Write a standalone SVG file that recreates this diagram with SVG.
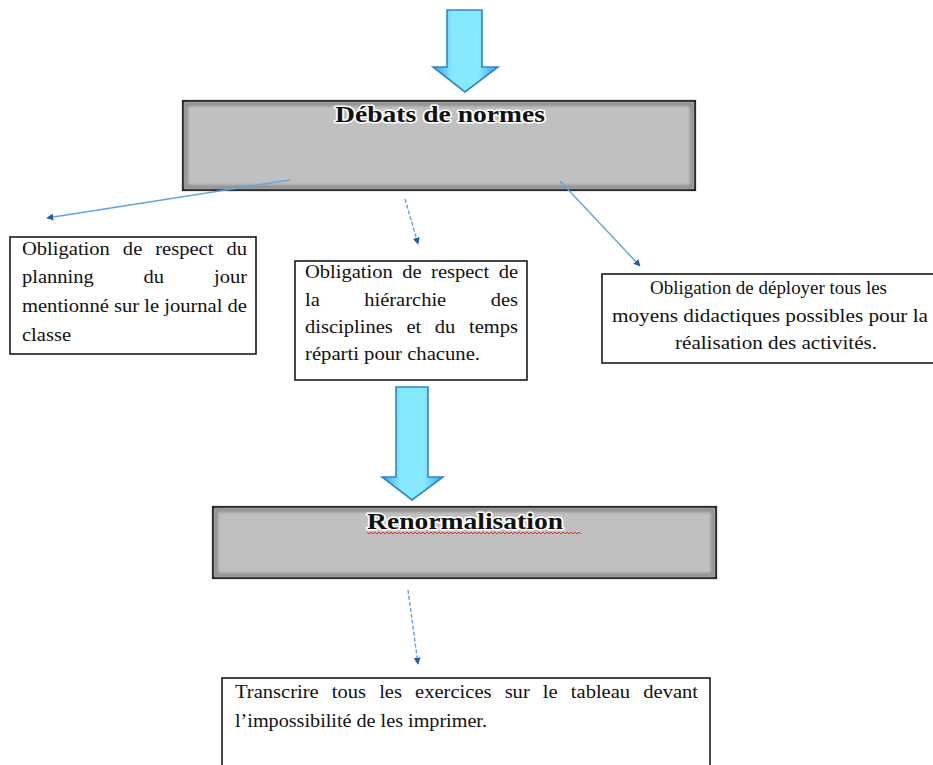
<svg xmlns="http://www.w3.org/2000/svg" width="933" height="765" viewBox="0 0 933 765">
<style>
.box{fill:#fff;stroke:#1a1a1a;stroke-width:1.6}
.gbox{fill:#c0c0c0;stroke:#1a1a1a;stroke-width:2.2}
.inner{fill:none;stroke:#8e8e8e;stroke-width:4}
.t{font-family:"Liberation Serif","Times New Roman",serif;font-size:19px;fill:#111}
.title{font-family:"Liberation Serif","Times New Roman",serif;font-size:23px;font-weight:bold;fill:#111;stroke:#fff;stroke-width:3;paint-order:stroke;stroke-linejoin:round}
.big{fill:url(#ag);stroke:#2f86c8;stroke-width:1.6}
.con{fill:none;stroke:#5ea4e4;stroke-width:1.4}
.dash{stroke-dasharray:4 2}
</style>
<defs>
<linearGradient id="ag" x1="0" y1="0" x2="1" y2="0">
<stop offset="0" stop-color="#3f9de0"/>
<stop offset="0.3" stop-color="#86eaff"/>
<stop offset="0.7" stop-color="#86eaff"/>
<stop offset="1" stop-color="#3f9de0"/>
</linearGradient>
<filter id="blur" x="-5%" y="-20%" width="110%" height="140%"><feGaussianBlur stdDeviation="1.5"/></filter>
<marker id="ah" viewBox="0 0 10 10" refX="9" refY="5" markerWidth="7" markerHeight="7" orient="auto" markerUnits="userSpaceOnUse">
<path d="M0,0 L10,5 L0,10 Z" fill="#1e5fa8"/>
</marker>
</defs>

<g id="arrow-top">
<polygon class="big" points="447,10 482,10 482,67 498,67 465,92 433,67 447,67"/>
</g>

<g id="debats">
<rect class="gbox" x="183" y="101" width="512" height="89"/>
<rect class="inner" x="186" y="104" width="506" height="83" filter="url(#blur)"/>
<text class="title" x="335" y="122" textLength="210" lengthAdjust="spacingAndGlyphs">Débats de normes</text>
</g>

<g id="connectors">
<line class="con" x1="290" y1="180" x2="47" y2="218" marker-end="url(#ah)"/>
<line class="con dash" x1="405" y1="199" x2="418" y2="244" marker-end="url(#ah)"/>
<line class="con" x1="560" y1="181" x2="640" y2="266" marker-end="url(#ah)"/>
<line class="con dash" x1="408" y1="590" x2="418" y2="664" marker-end="url(#ah)"/>
</g>

<g id="box-left">
<rect class="box" x="10" y="237" width="246" height="117"/>
<text class="t" x="22" y="255" word-spacing="7.3" textLength="225" lengthAdjust="spacingAndGlyphs">Obligation de respect du</text>
<text class="t" x="22" y="283" word-spacing="41.4" textLength="225" lengthAdjust="spacingAndGlyphs">planning du jour</text>
<text class="t" x="22" y="312" textLength="225" lengthAdjust="spacingAndGlyphs">mentionné sur le journal de</text>
<text class="t" x="22" y="341" textLength="49" lengthAdjust="spacingAndGlyphs">classe</text>
</g>

<g id="box-middle">
<rect class="box" x="295" y="261" width="232" height="119"/>
<text class="t" x="305" y="278" word-spacing="4" textLength="213" lengthAdjust="spacingAndGlyphs">Obligation de respect de</text>
<text class="t" x="305" y="306" word-spacing="36.4" textLength="213" lengthAdjust="spacingAndGlyphs">la hiérarchie des</text>
<text class="t" x="305" y="333" word-spacing="7.9" textLength="213" lengthAdjust="spacingAndGlyphs">disciplines et du temps</text>
<text class="t" x="305" y="360" textLength="175" lengthAdjust="spacingAndGlyphs">réparti pour chacune.</text>
</g>

<g id="box-right">
<rect class="box" x="602" y="274" width="340" height="89"/>
<text class="t" x="650" y="294" textLength="237" lengthAdjust="spacingAndGlyphs">Obligation de déployer tous les</text>
<text class="t" x="612" y="322" textLength="316" lengthAdjust="spacingAndGlyphs">moyens didactiques possibles pour la</text>
<text class="t" x="675" y="349" textLength="202" lengthAdjust="spacingAndGlyphs">réalisation des activités.</text>
</g>

<g id="arrow-mid">
<polygon class="big" points="396,387 428,387 428,477 443,477 412,500 382,477 396,477"/>
</g>

<g id="renormalisation">
<rect class="gbox" x="213" y="507" width="503" height="71"/>
<rect class="inner" x="216" y="510" width="497" height="65" filter="url(#blur)"/>
<text class="title" x="367" y="529" textLength="196" lengthAdjust="spacingAndGlyphs">Renormalisation</text>
<path d="M367,532 l2,2 l2,-2 l2,2 l2,-2 l2,2 l2,-2 l2,2 l2,-2 l2,2 l2,-2 l2,2 l2,-2 l2,2 l2,-2 l2,2 l2,-2 l2,2 l2,-2 l2,2 l2,-2 l2,2 l2,-2 l2,2 l2,-2 l2,2 l2,-2 l2,2 l2,-2 l2,2 l2,-2 l2,2 l2,-2 l2,2 l2,-2 l2,2 l2,-2 l2,2 l2,-2 l2,2 l2,-2 l2,2 l2,-2 l2,2 l2,-2 l2,2 l2,-2 l2,2 l2,-2 l2,2 l2,-2 l2,2 l2,-2 l2,2 l2,-2 l2,2 l2,-2 l2,2 l2,-2 l2,2 l2,-2 l2,2 l2,-2 l2,2 l2,-2 l2,2 l2,-2 l2,2 l2,-2 l2,2 l2,-2 l2,2 l2,-2 l2,2 l2,-2 l2,2 l2,-2 l2,2 l2,-2 l2,2 l2,-2 l2,2 l2,-2 l2,2 l2,-2 l2,2 l2,-2 l2,2 l2,-2 l2,2 l2,-2 l2,2 l2,-2 l2,2 l2,-2 l2,2 l2,-2 l2,2 l2,-2 l2,2 l2,-2 l2,2 l2,-2 l2,2 l2,-2 l2,2 l2,-2 l2,2" fill="none" stroke="#e03030" stroke-width="1"/>
</g>

<g id="box-bottom">
<rect class="box" x="222" y="678" width="488" height="100"/>
<text class="t" x="235" y="698" word-spacing="7.4" textLength="463" lengthAdjust="spacingAndGlyphs">Transcrire tous les exercices sur le tableau devant</text>
<text class="t" x="235" y="727" textLength="252" lengthAdjust="spacingAndGlyphs">l’impossibilité de les imprimer.</text>
</g>
</svg>
